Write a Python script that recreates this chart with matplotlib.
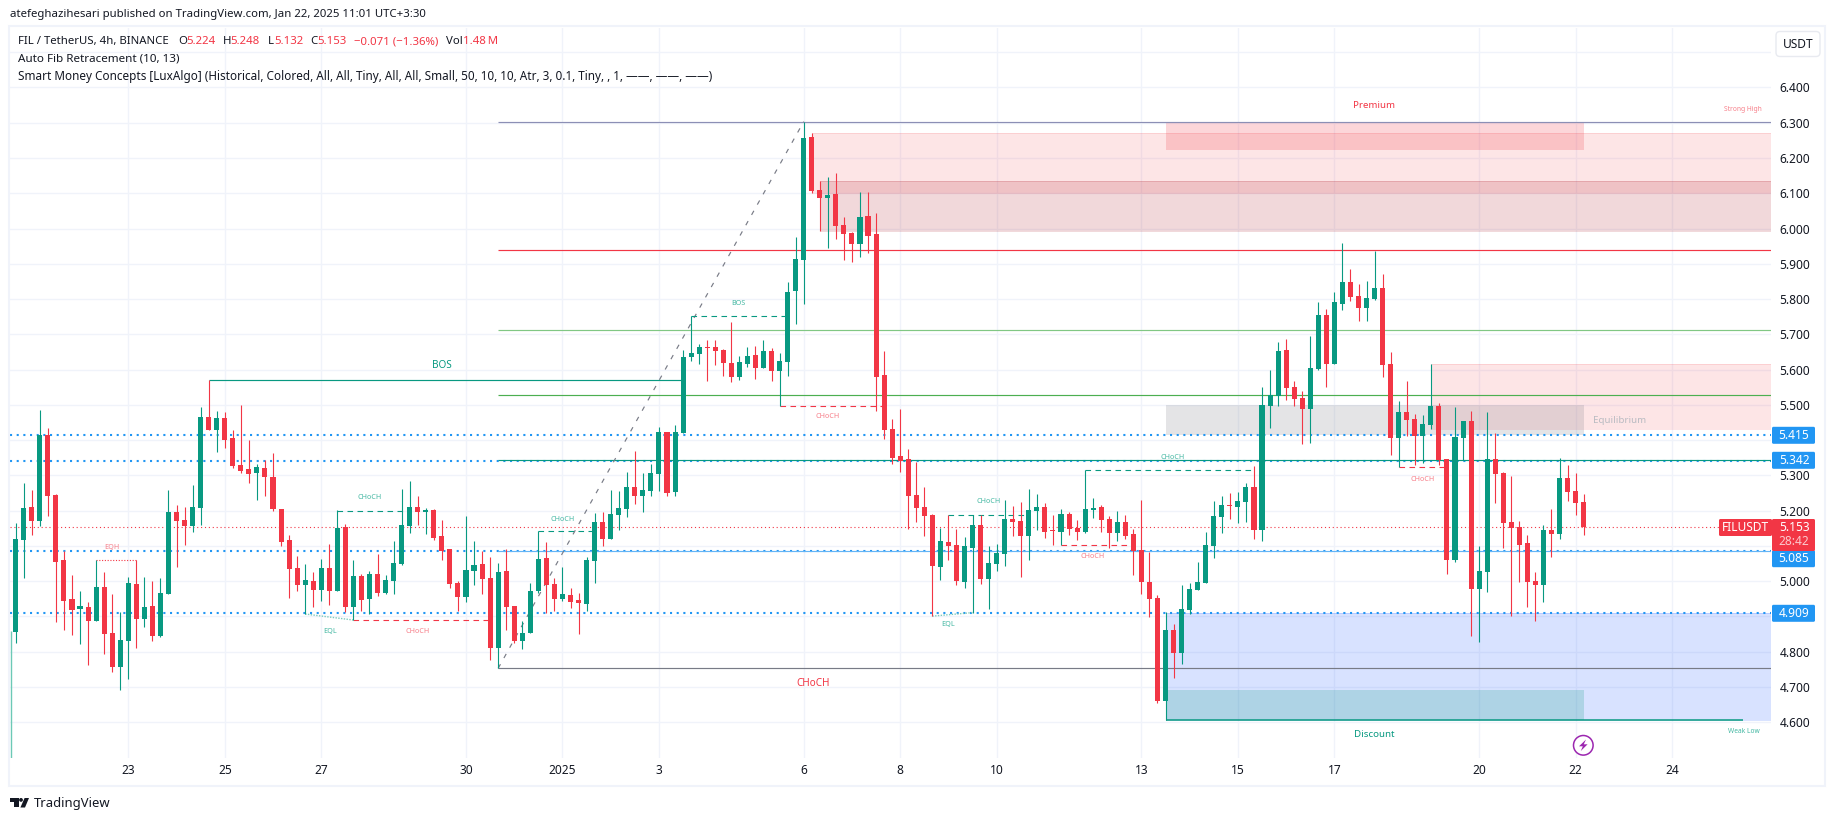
import matplotlib
matplotlib.use('Agg')
import matplotlib.pyplot as plt
from matplotlib.patches import Rectangle, FancyBboxPatch, Polygon, Circle

plt.rcParams['font.family'] = ['Noto Sans', 'DejaVu Sans']

opens = [4.856,5.117,5.210,5.171,5.414,5.244,5.060,4.949,4.921,4.927,
         4.887,4.983,4.853,4.757,4.830,4.992,4.893,4.930,4.845,4.964,
         5.196,5.173,5.156,5.207,5.465,5.429,5.463,5.406,5.329,5.318,
         5.307,5.321,5.295,5.205,5.117,5.037,4.989,5.000,4.975,5.037,
         4.972,5.154,4.927,5.015,4.949,5.020,4.966,5.000,5.049,5.156,
         5.210,5.196,5.202,5.128,5.091,4.995,4.956,5.029,5.048,5.009,
         4.811,5.028,4.930,4.831,4.854,4.972,5.065,4.991,4.949,4.960,
         4.946,4.936,5.057,5.167,5.120,5.187,5.204,5.267,5.241,5.255,
         5.304,5.422,5.253,5.420,5.635,5.644,5.664,5.664,5.655,5.618,
         5.578,5.615,5.641,5.604,5.652,5.596,5.621,5.823,5.910,6.259,
         6.109,6.086,6.097,6.009,5.987,5.956,6.035,5.984,5.584,5.431,
         5.355,5.346,5.244,5.210,5.188,5.040,5.111,5.102,4.998,5.094,
         5.159,5.006,5.049,5.077,5.176,5.170,5.128,5.199,5.210,5.145,
         5.139,5.190,5.152,5.139,5.202,5.210,5.176,5.136,5.168,5.134,
         5.088,4.998,4.952,4.660,4.861,4.796,4.918,4.975,4.995,5.100,
         5.182,5.216,5.210,5.224,5.267,5.145,5.497,5.525,5.655,5.550,
         5.519,5.488,5.602,5.755,5.616,5.786,5.848,5.809,5.774,5.800,
         5.831,5.616,5.406,5.480,5.460,5.412,5.443,5.497,5.346,5.060,
         5.406,5.454,4.978,5.026,5.346,5.307,5.168,5.153,5.108,5.000,
         4.989,5.145,5.134,5.292,5.256,5.224]
highs = [5.164,5.278,5.258,5.485,5.434,5.247,5.086,5.017,4.972,4.941,
         5.060,5.026,4.964,4.913,5.012,5.060,5.012,5.000,5.009,5.258,
         5.216,5.210,5.273,5.494,5.570,5.482,5.480,5.429,5.499,5.400,
         5.332,5.343,5.363,5.205,5.131,5.071,5.049,5.026,5.063,5.105,
         5.202,5.162,5.060,5.020,5.029,5.077,5.017,5.114,5.261,5.284,
         5.241,5.207,5.205,5.173,5.091,5.000,5.185,5.114,5.085,5.068,
         5.051,5.090,4.930,4.886,4.995,5.141,5.111,5.010,5.040,4.980,
         4.967,5.068,5.193,5.195,5.258,5.255,5.309,5.369,5.306,5.332,
         5.436,5.422,5.443,5.655,5.753,5.672,5.684,5.684,5.658,5.735,
         5.638,5.664,5.666,5.684,5.661,5.647,5.848,5.976,6.303,6.271,
         6.134,6.146,6.157,6.032,5.990,6.104,6.104,6.044,5.652,5.459,
         5.488,5.375,5.338,5.267,5.190,5.152,5.189,5.148,5.125,5.189,
         5.189,5.100,5.105,5.230,5.213,5.224,5.261,5.247,5.222,5.188,
         5.205,5.196,5.173,5.315,5.236,5.216,5.185,5.199,5.188,5.148,
         5.230,5.083,4.961,4.912,4.878,4.989,4.995,5.054,5.139,5.227,
         5.241,5.250,5.253,5.278,5.326,5.550,5.599,5.678,5.687,5.567,
         5.539,5.695,5.791,5.772,5.820,5.959,5.885,5.843,5.851,5.936,
         5.871,5.650,5.511,5.567,5.474,5.471,5.616,5.505,5.346,5.494,
         5.454,5.482,5.100,5.480,5.420,5.309,5.298,5.170,5.131,5.026,
         5.159,5.205,5.349,5.329,5.307,5.248]
lows = [4.825,5.009,5.131,5.156,5.185,4.884,4.862,4.847,4.822,4.762,
        4.887,4.794,4.742,4.691,4.723,4.811,4.870,4.830,4.842,4.964,
        5.040,5.103,5.139,5.159,5.429,5.366,5.377,5.321,5.307,5.278,
        5.230,5.241,5.199,5.100,4.952,4.972,4.907,4.927,4.944,4.932,
        4.972,4.913,4.890,4.915,4.907,4.958,4.964,4.964,5.046,5.137,
        5.159,5.134,5.117,5.060,4.981,4.915,4.942,4.990,4.964,4.778,
        4.753,4.861,4.825,4.808,4.854,4.967,4.909,4.915,4.945,4.923,
        4.850,4.915,4.995,5.099,5.120,5.144,5.181,5.218,5.195,5.241,
        5.255,5.241,5.241,5.420,5.624,5.615,5.568,5.612,5.582,5.564,
        5.570,5.607,5.573,5.604,5.568,5.498,5.582,5.729,5.786,6.100,
        5.993,5.944,5.970,5.910,5.905,5.919,5.930,5.482,5.404,5.332,
        5.309,5.148,5.168,5.128,4.901,5.003,5.060,4.989,4.981,4.911,
        4.992,4.921,5.029,5.043,5.128,5.012,5.060,5.145,5.122,5.102,
        5.102,5.131,5.117,5.136,5.179,5.139,5.094,5.114,5.119,5.017,
        4.964,4.898,4.654,4.606,4.725,4.765,4.907,4.975,4.995,5.066,
        5.136,5.176,5.165,5.168,5.119,5.114,5.434,5.497,5.514,5.497,
        5.389,5.392,5.599,5.550,5.616,5.769,5.794,5.738,5.738,5.797,
        5.579,5.358,5.324,5.412,5.329,5.335,5.431,5.329,5.020,5.054,
        5.343,4.844,4.827,4.969,5.222,5.094,4.901,4.998,4.927,4.887,
        4.941,5.068,5.119,5.227,5.188,5.132]
closes = [5.120,5.207,5.171,5.414,5.241,5.054,4.944,4.918,4.930,4.887,
          4.983,4.850,4.757,4.833,4.995,4.893,4.927,4.845,4.966,5.196,
          5.171,5.156,5.210,5.465,5.429,5.463,5.400,5.326,5.312,5.304,
          5.324,5.295,5.205,5.111,5.035,4.989,5.003,4.975,5.037,4.972,
          5.151,4.927,5.015,4.947,5.020,4.966,5.003,5.051,5.159,5.210,
          5.196,5.202,5.122,5.086,4.992,4.955,5.032,5.046,5.007,4.811,
          5.026,4.926,4.831,4.853,4.972,5.062,4.990,4.949,4.963,4.940,
          4.937,5.060,5.167,5.120,5.190,5.207,5.267,5.241,5.258,5.306,
          5.422,5.250,5.422,5.635,5.647,5.664,5.661,5.652,5.618,5.578,
          5.621,5.638,5.604,5.652,5.596,5.624,5.819,5.913,6.257,6.106,
          6.086,6.095,6.007,5.984,5.956,6.032,5.979,5.578,5.429,5.348,
          5.341,5.241,5.207,5.185,5.043,5.114,5.100,5.000,5.100,5.159,
          5.006,5.051,5.080,5.176,5.168,5.128,5.202,5.210,5.139,5.142,
          5.190,5.148,5.139,5.205,5.207,5.173,5.136,5.168,5.128,5.085,
          4.998,4.949,4.660,4.861,4.796,4.921,4.978,4.998,5.102,5.185,
          5.216,5.213,5.227,5.267,5.145,5.499,5.527,5.653,5.548,5.516,
          5.488,5.604,5.755,5.616,5.791,5.848,5.806,5.774,5.803,5.831,
          5.613,5.406,5.480,5.457,5.412,5.446,5.497,5.343,5.060,5.409,
          5.454,4.978,5.029,5.346,5.304,5.165,5.152,5.102,4.998,4.989,
          5.145,5.134,5.292,5.253,5.222,5.153]

tick_pos = [14, 26, 38, 56, 68, 80, 98, 110, 122, 140, 152, 164, 182, 194, 206]
tick_labels = ['23', '25', '27', '30', '2025', '3', '6', '8', '10', '13', '15', '17', '20', '22', '24']
price_ticks = [4.6, 4.7, 4.8, 4.9, 5.0, 5.1, 5.2, 5.3, 5.4, 5.5, 5.6, 5.7, 5.8, 5.9, 6.0, 6.1, 6.2, 6.3, 6.4, 6.5]
hidden_ticks = [4.9, 5.1, 5.4, 6.5]

fib_levels = [6.303, 5.938, 5.712, 5.527, 5.343, 5.085, 4.753]
fib_colors = ['#8c8fb5', '#f23645', '#81c784', '#4caf50', '#089981', '#64b5f6', '#787b86']
blue_levels = [5.415, 5.342, 5.085, 4.909]
last_price = 5.153

# dashed structure lines: start bar, end bar, price
teal_dash = [(40, 49, 5.200), (65, 72, 5.141), (84, 96, 5.753), (116, 126, 5.189), (133, 154, 5.314)]
red_dash = [(42, 59, 4.890), (95, 108, 5.498), (130, 139, 5.102), (172, 178, 5.323)]

GREEN = '#089981'
RED = '#f23645'
BLUE = '#2196f3'
TEXT = '#131722'
SOFT_GREEN = '#45b8a3'
SOFT_RED = '#f77f89'
W, H = 1835, 821

fig = plt.figure(figsize=(W / 100, H / 100), dpi=100, facecolor='white')
ax = fig.add_axes([10 / W, 1 - 757.5 / H, (1771 - 10) / W, (757.5 - 28) / H])
ax.set_xlim(-0.709, 218.3)
ax.set_ylim(4.5002, 6.5685)
for s in ax.spines.values():
    s.set_visible(False)

# grid and ticks
ax.set_xticks(tick_pos, tick_labels)
ax.yaxis.tick_right()
ax.set_yticks(price_ticks, ['' if p in hidden_ticks else '%.3f' % p for p in price_ticks])
ax.grid(True, color='#f0f3fa', lw=1.0, zorder=0)
ax.set_axisbelow(True)
ax.tick_params(axis='both', length=0, labelsize=8.6, labelcolor=TEXT)
ax.tick_params(axis='x', pad=5)
ax.tick_params(axis='y', pad=6)
for lab in ax.get_xticklabels():
    if lab.get_text() == '2025':
        lab.set_fontweight('bold')

xr = 218.3
# zones (start bar, end bar, low, high, colour, alpha)
def zone(x0, x1, lo, hi, color, alpha, edge=False):
    ax.add_patch(Rectangle((x0, lo), x1 - x0, hi - lo, facecolor=color, alpha=alpha, lw=0, zorder=1))
    if edge:
        ax.hlines([lo, hi], x0, x1, color=color, alpha=alpha, lw=0.7, zorder=1)

zone(99, xr, 6.100, 6.270, RED, 0.13, True)
zone(100, xr, 5.993, 6.134, '#b22833', 0.18, True)
zone(176, xr, 5.432, 5.615, RED, 0.13, True)
zone(143, xr, 4.606, 4.911, '#2962ff', 0.18, True)
zone(143, 195, 6.222, 6.303, RED, 0.2)
zone(143, 195, 5.415, 5.499, '#787b86', 0.20)
zone(143, 195, 4.606, 4.691, GREEN, 0.20)

# dotted key levels and fib lines
ax.hlines(blue_levels, -0.709, xr, color=BLUE, lw=1.5, linestyles=[(0, (1, 2.2))], zorder=1.5)
ax.hlines(last_price, -0.709, xr, color=RED, lw=0.8, linestyles=[(0, (1, 2.5))], zorder=1.5)
ax.hlines(fib_levels, 60, xr, colors=fib_colors, lw=0.85, zorder=1.6)
ax.plot([60, 98], [4.753, 6.303], color='#787b86', lw=0.85, ls=(0, (4, 6)), zorder=1.7)

# structure
ax.hlines(5.570, 24, 83, color=GREEN, lw=0.85, zorder=1.7)
ax.hlines(4.606, 143, 214.8, color=GREEN, lw=1.1, zorder=1.7)
for a, b, p in teal_dash:
    ax.hlines(p, a, b, color=GREEN, lw=0.8, linestyles=[(0, (5, 4))], zorder=1.7)
for a, b, p in red_dash:
    ax.hlines(p, a, b, color=RED, lw=0.8, linestyles=[(0, (5, 4))], zorder=1.7)
ax.plot([10, 15], [5.060, 5.060], color=RED, lw=0.8, ls=(0, (1, 1.5)), zorder=1.7)
ax.plot([36, 42], [4.907, 4.890], color='#7dcabb', lw=1.0, ls=(0, (1, 1)), zorder=1.7)
ax.plot([114, 119], [4.901, 4.911], color='#7dcabb', lw=1.0, ls=(0, (1, 1)), zorder=1.7)
ax.vlines(-0.6, 4.5, 4.859, color='#6cc9b6', lw=1.0, zorder=1.7)

# candles
bars = range(len(opens))
colors = [GREEN if c > o else RED for o, c in zip(opens, closes)]
ax.vlines(bars, lows, highs, colors=colors, lw=0.8, zorder=3)
ax.bar(bars, [abs(c - o) for o, c in zip(opens, closes)], bottom=[min(o, c) for o, c in zip(opens, closes)],
       width=0.63, color=colors, lw=0, zorder=3.1)

# overlay in pixel coordinates for the labels and furniture
ov = fig.add_axes([0, 0, 1, 1], facecolor='none')
ov.set_xlim(0, W)
ov.set_ylim(H, 0)
ov.axis('off')

ov.add_patch(Rectangle((8.5, 26.5), 1825 - 8.5, 786 - 26.5, fill=False, ec='#f0f3fa', lw=1.5))
ov.add_patch(FancyBboxPatch((1776, 31.5), 44, 25, boxstyle='round,pad=0,rounding_size=4', fc='white', ec='#e8eaf0', lw=1.0))
ov.text(1798, 44.5, 'USDT', fontsize=8.6, color=TEXT, ha='center', va='center')

def tag(y0, y1, color):
    ov.add_patch(FancyBboxPatch((1772, y0), 43, y1 - y0, boxstyle='round,pad=0,rounding_size=1.5', fc=color, ec='none'))

for txt, yc in [('5.415', 435.3), ('5.342', 460.3), ('5.085', 558.7), ('4.909', 613.3)]:
    tag(yc - 8.5, yc + 8.5, BLUE)
    ov.text(1794, yc, txt, fontsize=8.6, color='white', ha='center', va='center', fontweight='medium')
tag(519, 551, RED)
ov.add_patch(FancyBboxPatch((1719, 519), 53, 17, boxstyle='round,pad=0,rounding_size=1.5', fc=RED, ec='none'))
ov.text(1745, 527.5, 'FILUSDT', fontsize=8.6, color='white', ha='center', va='center', fontweight='medium')
ov.text(1794, 527.5, '5.153', fontsize=8.6, color='white', ha='center', va='center', fontweight='medium')
ov.text(1794, 541.7, '28:42', fontsize=8.6, color='#fbc9cd', ha='center', va='center')

# chart labels
labels = [(442, 365, 'BOS', GREEN, 7.2), (813, 683.6, 'CHoCH', RED, 7.2), (1374, 105, 'Premium', RED, 7.0),
          (1374, 734.7, 'Discount', GREEN, 7.0), (1620, 420.7, 'Equilibrium', '#b9bbc2', 7.0),
          (112.3, 547.7, 'EQH', SOFT_RED, 5.2), (329.7, 631.7, 'EQL', SOFT_GREEN, 5.2), (947.7, 624.7, 'EQL', SOFT_GREEN, 5.2),
          (369.3, 497.3, 'CHoCH', SOFT_GREEN, 5.2), (562.3, 519.8, 'CHoCH', SOFT_GREEN, 5.2), (988.3, 501.7, 'CHoCH', SOFT_GREEN, 5.2),
          (1172.3, 457.7, 'CHoCH', SOFT_GREEN, 5.2), (738.7, 303.2, 'BOS', SOFT_GREEN, 5.2),
          (417.3, 631.7, 'CHoCH', SOFT_RED, 5.2), (827.3, 416.5, 'CHoCH', SOFT_RED, 5.2),
          (1092.3, 556.7, 'CHoCH', SOFT_RED, 5.2), (1422.2, 479.7, 'CHoCH', SOFT_RED, 5.2),
          (1742.7, 109.3, 'Strong High', SOFT_RED, 4.8), (1743.7, 731.7, 'Weak Low', SOFT_GREEN, 4.8)]
for x, y, s, c, fs in labels:
    ov.text(x, y, s, color=c, fontsize=fs, ha='center', va='center')

# header
HF = 8.2
ov.text(10, 15, 'atefeghazihesari published on TradingView.com, Jan 22, 2025 11:01 UTC+3:30', fontsize=HF, color=TEXT, va='center')
for x, s, c in [(18, 'FIL / TetherUS, 4h, BINANCE', TEXT), (178, 'O', TEXT), (186.6, '5.224', RED), (222.5, 'H', TEXT), (230.7, '5.248', RED),
                (267.6, 'L', TEXT), (273.9, '5.132', RED), (310, 'C', TEXT), (317.5, '5.153', RED),
                (354.3, '\u22120.071 (\u22121.36%)', RED), (446.4, 'Vol', TEXT), (462.9, '1.48\u2009M', RED)]:
    ov.text(x, 41.5, s, fontsize=HF, color=c, va='center')
ov.text(18, 59, 'Auto Fib Retracement (10, 13)', fontsize=8.4, color=TEXT, va='center')
ov.text(18, 76.5, 'Smart Money Concepts [LuxAlgo] (Historical, Colored, All, All, Tiny, All, All, Small, 50, 10, 10, Atr, 3, 0.1, Tiny, , 1, \u2014\u2014, \u2014\u2014, \u2014\u2014)',
        fontsize=8.45, color=TEXT, va='center')

# TradingView logo
ov.add_patch(Polygon([(10, 798), (18.5, 798), (18.5, 807.5), (14, 807.5), (14, 801.6), (10, 801.6)], fc=TEXT, ec='none'))
ov.add_patch(Circle((21, 799.9), 1.9, fc=TEXT, ec='none'))
ov.add_patch(Polygon([(24.6, 798), (29, 798), (25, 807.5), (20.4, 807.5)], fc=TEXT, ec='none'))
ov.text(33.5, 803, 'TradingView', fontsize=9.4, color=TEXT, va='center')

# news icon
ov.add_patch(Circle((1583.3, 745.3), 9.8, fc='white', ec='#9c27b0', lw=1.1))
ov.add_patch(Polygon([(1586, 739.5), (1579, 746.3), (1582.8, 746.3), (1580.8, 751), (1587.6, 744.3), (1583.8, 744.3)], fc='#9c27b0', ec='none'))

fig.savefig('out.png', dpi=100)
